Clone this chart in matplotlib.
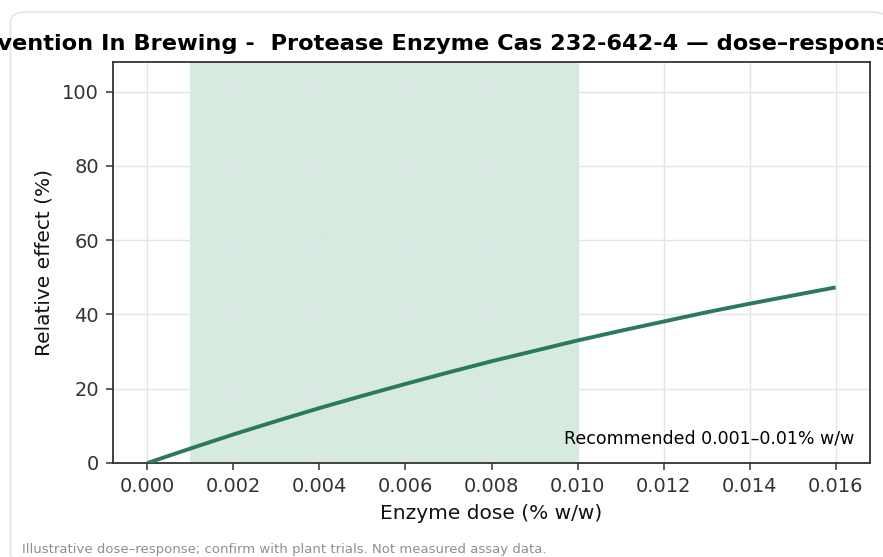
import matplotlib
matplotlib.use("Agg")
import matplotlib.pyplot as plt
from matplotlib.patches import FancyBboxPatch, Patch

# ---- data ----
dose = [0.000, 0.001, 0.002, 0.003, 0.004, 0.005, 0.006, 0.007, 0.008,
        0.009, 0.010, 0.011, 0.012, 0.013, 0.014, 0.015, 0.016]
effect = [0.0, 3.9, 7.7, 11.3, 14.8, 18.1, 21.3, 24.4, 27.4,
          30.2, 33.0, 35.6, 38.1, 40.6, 42.9, 45.1, 47.3]
rec_low, rec_high = 0.001, 0.010
xticks = [0.000, 0.002, 0.004, 0.006, 0.008, 0.010, 0.012, 0.014, 0.016]
yticks = [0, 20, 40, 60, 80, 100]
title_prefix = "Haze Pre"
title = "Haze Prevention In Brewing -  Protease Enzyme Cas 232-642-4 \u2014 dose\u2013response curve"
legend_label = "Recommended 0.001\u20130.01% w/w"
footnote = "Illustrative dose\u2013response; confirm with plant trials. Not measured assay data."

SPAN_COLOR = "#d7eadf"

W, H = 883, 557
fig = plt.figure(figsize=(W / 100, H / 100), dpi=100)
fig.patch.set_facecolor("white")

# card border
card = FancyBboxPatch((10.5 / W, 1 - 562 / H), (888 - 10.5) / W, (562 - 12) / H,
                      boxstyle="round,pad=0,rounding_size=0.018",
                      transform=fig.transFigure, facecolor="white",
                      edgecolor="#e2e6ea", linewidth=1.2, zorder=-5)
fig.patches.append(card)

ax = fig.add_axes([113 / W, 1 - 463 / H, (870 - 113) / W, (463 - 62) / H])
ax.set_zorder(2)
ax.set_facecolor("white")
ax.axvspan(rec_low, rec_high, facecolor=SPAN_COLOR, edgecolor="none", lw=0,
           zorder=0.2)
ax.plot(dose, effect, color="#2a7b58", lw=2.8, zorder=3, solid_capstyle="butt")

ax.set_xlim(-0.0008, 0.0168)
ax.set_ylim(0, 108)
ax.set_xticks(xticks)
ax.set_xticklabels([f"{v:.3f}" for v in xticks])
ax.set_yticks(yticks)
ax.grid(True, color="#e1e4ea", lw=1.0)
ax.set_axisbelow(True)
for s in ax.spines.values():
    s.set_color("#333333")
    s.set_linewidth(1.3)
ax.tick_params(axis="both", labelsize=14, colors="#333333", length=5, width=1.1,
               labelcolor="#333333", pad=5)
ax.set_xlabel("Enzyme dose (% w/w)", fontsize=14.5, color="#111111", labelpad=6)
ax.set_ylabel("Relative effect (%)", fontsize=14.5, color="#111111", labelpad=6)

handle = Patch(facecolor=SPAN_COLOR, edgecolor="none", label=legend_label)
leg = ax.legend(handles=[handle], loc="lower right", frameon=False, fontsize=12.5,
                handlelength=2.0, borderaxespad=0.5)

# title positioned so the visible part matches
TFS = 16.2
fig.canvas.draw()
r = fig.canvas.get_renderer()
tmp = fig.text(0, 0, title_prefix, fontsize=TFS, fontweight="bold")
pw = tmp.get_window_extent(r).width
tmp.remove()
fig.text((-pw - 3) / W, 1 - 44 / H, title, fontsize=TFS, fontweight="bold",
         ha="left", va="center", color="#000000", zorder=5)

fig.text(22 / W, 1 - 550 / H, footnote, fontsize=9.5, color="#8a9096",
         ha="left", va="center", zorder=5)

fig.savefig("out.png", dpi=100)
